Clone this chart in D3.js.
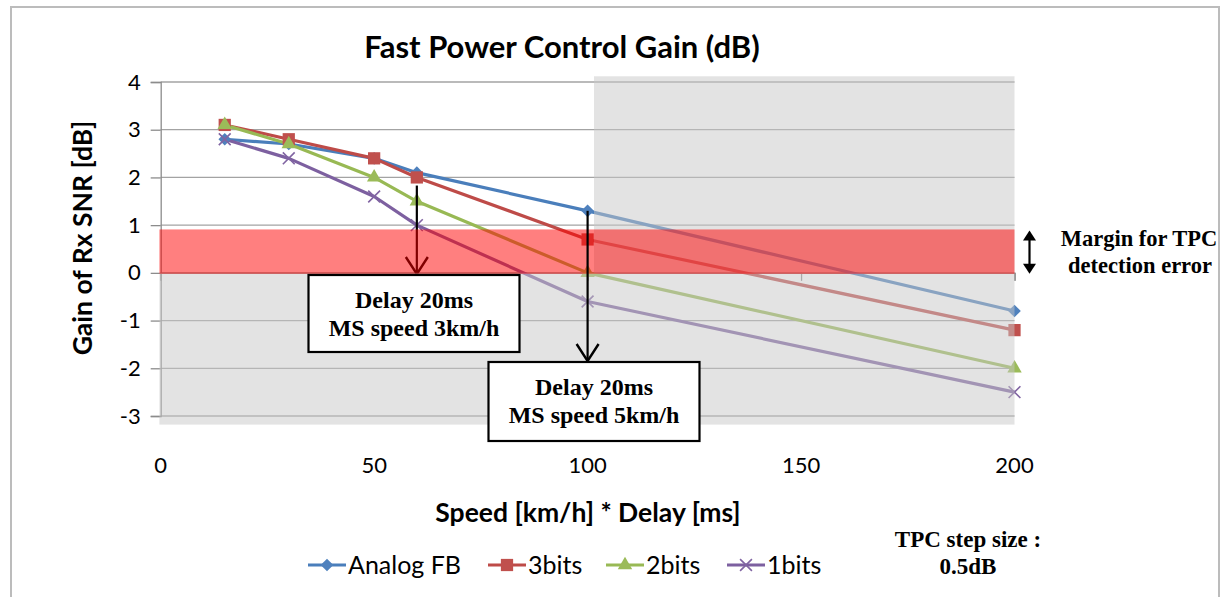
<!DOCTYPE html>
<html>
<head>
<meta charset="utf-8">
<script src="https://cdnjs.cloudflare.com/ajax/libs/d3/7.8.5/d3.min.js"></script>
<style>
	body { margin: 0; background: #fff; }
	svg { display: block; }
</style>
</head>
<body>
<div id="vis"></div>
<script>
/*
	Fast Power Control Gain chart
*/

// data
var speedDelay = [15, 30, 50, 60, 100, 200];
var analogFB = [2.8, 2.7, 2.4, 2.1, 1.3, -0.8];
var bits3 = [3.1, 2.8, 2.4, 2.0, 0.7, -1.2];
var bits2 = [3.1, 2.7, 2.0, 1.5, 0.0, -2.0];
var bits1 = [2.8, 2.4, 1.6, 1.0, -0.6, -2.5];
var seriesNames = ['Analog FB', '3bits', '2bits', '1bits'];
var xTicks = [0, 50, 100, 150, 200];
var yTicks = [-3, -2, -1, 0, 1, 2, 3, 4];

// annotation values (data units)
var marginBand = [-0.02, 0.91];      // margin for TPC detection error
var shadeUpper = [101.5, 200, 0, 4.12];
var shadeLower = [-0.3, 200, -3.18, 0];
var arrowA = { x: 60, from: 1.83, box: ['Delay 20ms', 'MS speed 3km/h'] };
var arrowB = { x: 100, from: 1.3, box: ['Delay 20ms', 'MS speed 5km/h'] };

var svg, width, height, x, y;

var lineColors = ['#4a7ebb', '#be4b48', '#98b954', '#7d60a0'];
var markColors = ['#4f81bd', '#c0504d', '#9bbb59', '#8064a2'];

var symX = {
	draw: function(ctx, size) {
		var r = Math.sqrt(size) / 2;
		ctx.moveTo(-r, -r); ctx.lineTo(r, r);
		ctx.moveTo(r, -r); ctx.lineTo(-r, r);
	}
};

width = 1228;
height = 597;

svg = d3.select('#vis').append('svg')
	.attr('width', width)
	.attr('height', height);

x = d3.scaleLinear().domain([0, 200]).range([160.7, 1014.5]);
y = d3.scaleLinear().domain([-3, 4]).range([416, 82]);

drawChart();

function marker(g, i, cx, cy) {
	var m;
	if (i === 0) {
		m = g.append('path').attr('d', d3.symbol(d3.symbolSquare, 80)())
			.attr('transform', 'translate(' + cx + ',' + cy + ') rotate(45)');
	} else if (i === 1) {
		m = g.append('path').attr('d', d3.symbol(d3.symbolSquare, 150)())
			.attr('transform', 'translate(' + cx + ',' + cy + ')');
	} else if (i === 2) {
		m = g.append('path').attr('d', d3.symbol(d3.symbolTriangle, 90)())
			.attr('transform', 'translate(' + cx + ',' + cy + ')');
	} else {
		m = g.append('path').attr('d', d3.symbol(symX, 140)())
			.attr('transform', 'translate(' + cx + ',' + cy + ')')
			.style('fill', 'none')
			.style('stroke', markColors[i])
			.style('stroke-width', 1.6);
		return m;
	}
	m.style('fill', markColors[i]);
	return m;
}

function arrowDown(g, a, tipY) {
	var ax = x(a.x);
	g.append('line')
		.attr('x1', ax).attr('y1', y(a.from))
		.attr('x2', ax).attr('y2', tipY)
		.style('stroke', '#000').style('stroke-width', 2.2);
	g.append('path')
		.attr('d', 'M' + (ax - 11) + ',' + (tipY - 17) + 'L' + ax + ',' + tipY + 'L' + (ax + 11) + ',' + (tipY - 17))
		.style('fill', 'none').style('stroke', '#000').style('stroke-width', 2.4);
}

function textBox(g, cx, top, w, h, lines) {
	g.append('rect')
		.attr('x', cx - w / 2).attr('y', top)
		.attr('width', w).attr('height', h)
		.style('fill', '#fff').style('stroke', '#000').style('stroke-width', 2.2);
	lines.forEach(function(t, k) {
		g.append('text')
			.attr('x', cx).attr('y', top + 33 + k * 28)
			.attr('text-anchor', 'middle')
			.style('font-family', '"Liberation Serif", "Times New Roman", serif')
			.style('font-weight', 'bold')
			.style('font-size', '24px')
			.text(t);
	});
}

function drawChart() {
	var allSeries = [analogFB, bits3, bits2, bits1];
	var sans = 'Lato, "Open Sans", sans-serif';
	var serif = '"Liberation Serif", "Times New Roman", serif';

	// chart frame
	svg.append('rect')
		.attr('x', 11).attr('y', 7)
		.attr('width', 1208).attr('height', 610)
		.style('fill', '#fff').style('stroke', '#bcbcbc').style('stroke-width', 2);

	// gridlines
	svg.append('g').selectAll('line').data(yTicks).enter()
		.append('line')
		.attr('x1', x(0)).attr('x2', x(200))
		.attr('y1', function(d) { return y(d); })
		.attr('y2', function(d) { return y(d); })
		.style('stroke', '#a3a3a3').style('stroke-width', 1.3);

	// y axis
	var yAxis = d3.axisLeft(y).tickValues(yTicks).tickSize(10).tickPadding(8)
		.tickFormat(function(d) { return String(d); });
	var gy = svg.append('g').attr('transform', 'translate(' + x(0) + ',0)').call(yAxis);
	gy.select('.domain').style('stroke', '#8c8c8c').style('stroke-width', 1.3);
	gy.selectAll('.tick line').style('stroke', '#8c8c8c').style('stroke-width', 1.3);
	gy.selectAll('.tick text').style('font-family', sans).style('font-size', '22px').style('fill', '#000')
		.attr('dx', '-2');

	// x axis line at y = 0, labels at the bottom
	var xAxis = d3.axisBottom(x).tickValues(xTicks).tickSize(8).tickFormat('');
	var gx = svg.append('g').attr('transform', 'translate(0,' + y(0) + ')').call(xAxis);
	gx.select('.domain').style('stroke', '#8c8c8c').style('stroke-width', 1.3);
	gx.selectAll('.tick line').style('stroke', '#8c8c8c').style('stroke-width', 1.3);

	svg.append('g').selectAll('text').data(xTicks).enter()
		.append('text')
		.attr('x', function(d) { return x(d); })
		.attr('y', 473)
		.attr('text-anchor', 'middle')
		.style('font-family', sans).style('font-size', '22px')
		.text(function(d) { return d; });

	// series
	var line = d3.line()
		.x(function(d, i) { return x(speedDelay[i]); })
		.y(function(d) { return y(d); });

	var gs = svg.append('g');
	allSeries.forEach(function(s, i) {
		gs.append('path')
			.datum(s)
			.attr('d', line)
			.style('fill', 'none')
			.style('stroke', lineColors[i])
			.style('stroke-width', 3.2)
			.style('stroke-linejoin', 'round');
	});
	allSeries.forEach(function(s, i) {
		s.forEach(function(v, k) {
			marker(gs, i, x(speedDelay[k]), y(v));
		});
	});

	// arrow at 60 sits under the margin band
	arrowDown(svg.append('g'), arrowA, 274);

	// grey shaded areas
	var shade = svg.append('g');
	[shadeUpper, shadeLower].forEach(function(r) {
		shade.append('rect')
			.attr('x', x(r[0])).attr('y', y(r[3]))
			.attr('width', x(r[1]) - x(r[0]))
			.attr('height', y(r[2]) - y(r[3]))
			.style('fill', 'rgb(200,200,200)').style('fill-opacity', 0.5);
	});

	// margin band
	svg.append('rect')
		.attr('x', x(-0.3)).attr('y', y(marginBand[1]))
		.attr('width', x(200) - x(-0.3))
		.attr('height', y(marginBand[0]) - y(marginBand[1]))
		.style('fill', 'rgb(255,0,0)').style('fill-opacity', 0.5);

	// arrow at 100 sits on top
	arrowDown(svg.append('g'), arrowB, 361);

	// boxes
	textBox(svg.append('g'), 414, 275, 211, 77, arrowA.box);
	textBox(svg.append('g'), 594, 362, 211, 79, arrowB.box);

	// double arrow for margin
	var dx = 1029.5, t = y(marginBand[1]) + 1, b = y(marginBand[0]);
	svg.append('line')
		.attr('x1', dx).attr('x2', dx).attr('y1', t + 6).attr('y2', b - 6)
		.style('stroke', '#000').style('stroke-width', 2.2);
	svg.append('path')
		.attr('d', 'M' + dx + ',' + t + 'L' + (dx - 6.5) + ',' + (t + 10) + 'L' + (dx + 6.5) + ',' + (t + 10) + 'Z')
		.style('fill', '#000');
	svg.append('path')
		.attr('d', 'M' + dx + ',' + b + 'L' + (dx - 6.5) + ',' + (b - 10) + 'L' + (dx + 6.5) + ',' + (b - 10) + 'Z')
		.style('fill', '#000');

	svg.append('text').attr('x', 1139).attr('y', 246).attr('text-anchor', 'middle')
		.style('font-family', serif).style('font-weight', 'bold').style('font-size', '22.5px')
		.text('Margin for TPC');
	svg.append('text').attr('x', 1140).attr('y', 273).attr('text-anchor', 'middle')
		.style('font-family', serif).style('font-weight', 'bold').style('font-size', '22.5px')
		.text('detection error');

	// title
	svg.append('text').attr('x', 562).attr('y', 58).attr('text-anchor', 'middle')
		.style('font-family', sans).style('font-weight', 'bold').style('font-size', '31px')
		.text('Fast Power Control Gain (dB)');

	// axis titles
	svg.append('text')
		.attr('transform', 'translate(92,238) rotate(-90)')
		.attr('text-anchor', 'middle')
		.style('font-family', sans).style('font-weight', 'bold').style('font-size', '26.5px')
		.text('Gain of Rx SNR [dB]');
	svg.append('text').attr('x', 588).attr('y', 522).attr('text-anchor', 'middle')
		.style('font-family', sans).style('font-weight', 'bold').style('font-size', '26.5px')
		.text('Speed [km/h] * Delay [ms]');

	// step size note
	svg.append('text').attr('x', 968).attr('y', 547).attr('text-anchor', 'middle')
		.style('font-family', serif).style('font-weight', 'bold').style('font-size', '23px')
		.text('TPC step size :');
	svg.append('text').attr('x', 968).attr('y', 574).attr('text-anchor', 'middle')
		.style('font-family', serif).style('font-weight', 'bold').style('font-size', '23px')
		.text('0.5dB');

	// legend
	var legendX = [308, 488, 606, 727];
	var ly = 565;
	var gl = svg.append('g');
	seriesNames.forEach(function(name, i) {
		gl.append('line')
			.attr('x1', legendX[i]).attr('x2', legendX[i] + 38)
			.attr('y1', ly).attr('y2', ly)
			.style('stroke', lineColors[i]).style('stroke-width', 3.2);
		marker(gl, i, legendX[i] + 19, ly);
		gl.append('text')
			.attr('x', legendX[i] + 40).attr('y', ly + 8.5)
			.style('font-family', sans).style('font-size', '25px')
			.text(name);
	});
}
</script>
</body>
</html>
